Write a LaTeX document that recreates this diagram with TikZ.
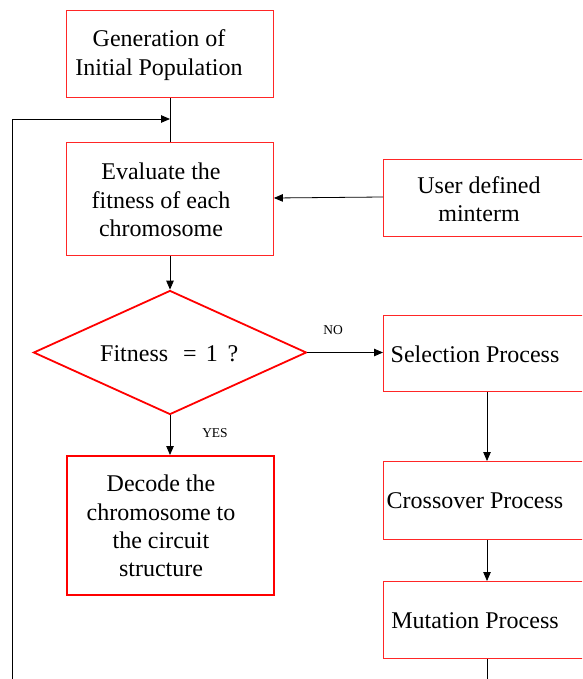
\documentclass[tikz,border=0pt]{standalone}
\usepackage{fontspec}
\setmainfont{Liberation Serif}
\usetikzlibrary{arrows.meta,shapes.geometric}
\begin{document}
\begin{tikzpicture}[x=1pt,y=-1pt,
  box/.style={draw=red!85!white, line width=0.9pt, inner sep=0pt, anchor=north west},
  boldbox/.style={draw=red, line width=1.8pt, inner sep=0pt, anchor=north west},
  txt/.style={align=center, inner sep=0pt, font=\fontsize{24}{28.3}\selectfont},
  small/.style={inner sep=0pt, font=\fontsize{13.5}{15}\selectfont},
  arr/.style={-{Triangle[length=9pt,width=7.5pt]}, line width=0.8pt},
  ln/.style={line width=0.8pt}
]
\useasboundingbox (0,0) rectangle (582,679);
\clip (0,0) rectangle (582,679);
\fill[white] (0,0) rectangle (582,679);

% left column boxes
\node[box, minimum width=207pt, minimum height=87pt] (gen) at (66,10) {};
\node[txt] (gent) at (159,55) {Generation of\\Initial Population};

\node[box, minimum width=207pt, minimum height=113pt] (eval) at (66,142) {};
\node[txt] (evalt) at (161,200) {Evaluate the\\fitness of each\\chromosome};

\node[diamond, draw=red, line width=1.8pt, minimum width=273pt, minimum height=124pt, inner sep=0pt, aspect=2.2] (fit) at (170,352.5) {};
\node[txt, anchor=west] (fitt) at (100,354) {Fitness\hspace{15pt}=\hspace{9pt}1\hspace{10pt}?};

\node[boldbox, minimum width=207pt, minimum height=139pt] (decode) at (66,455) {};
\node[txt] (decodet) at (161,526) {Decode the\\chromosome to\\the circuit\\structure};

% right column boxes (extend beyond right edge)
\node[box, minimum width=230pt, minimum height=77pt] (user) at (383,159) {};
\node[txt] (usert) at (479,199) {User defined\\minterm};

\node[box, minimum width=230pt, minimum height=76pt] (sel) at (383,315) {};
\node[txt] (selt) at (475,354) {Selection Process};

\node[box, minimum width=230pt, minimum height=78pt] (cross) at (383,461) {};
\node[txt] (crosst) at (475,501) {Crossover Process};

\node[box, minimum width=230pt, minimum height=77pt] (mut) at (383,581) {};
\node[txt] (mutt) at (475,621) {Mutation Process};

% labels
\node[small] (no) at (333,330) {NO};
\node[small] (yes) at (215,433) {YES};

% coordinates
\coordinate (join) at (170,119);
\coordinate (loopb) at (12,700);
\coordinate (loopt) at (12,119);
\coordinate (mutb) at (487,700);

% connectors
\draw[ln] (gen.south -| join) -- (eval.north -| join);
\draw[arr] (loopb) -- (loopt) -- (join);
\draw[arr] (eval.south -| join) -- (fit.north);
\draw[arr] (user.west |- 0,197) -- (eval.east |- 0,198);
\draw[arr] (fit.east) -- (sel.west |- fit.east);
\draw[arr] (fit.south) -- (decode.north -| fit.south);
\draw[arr] (sel.south -| 487,0) -- (cross.north -| 487,0);
\draw[arr] (cross.south -| 487,0) -- (mut.north -| 487,0);
\draw[ln] (mut.south -| mutb) -- (mutb);
\end{tikzpicture}
\end{document}
